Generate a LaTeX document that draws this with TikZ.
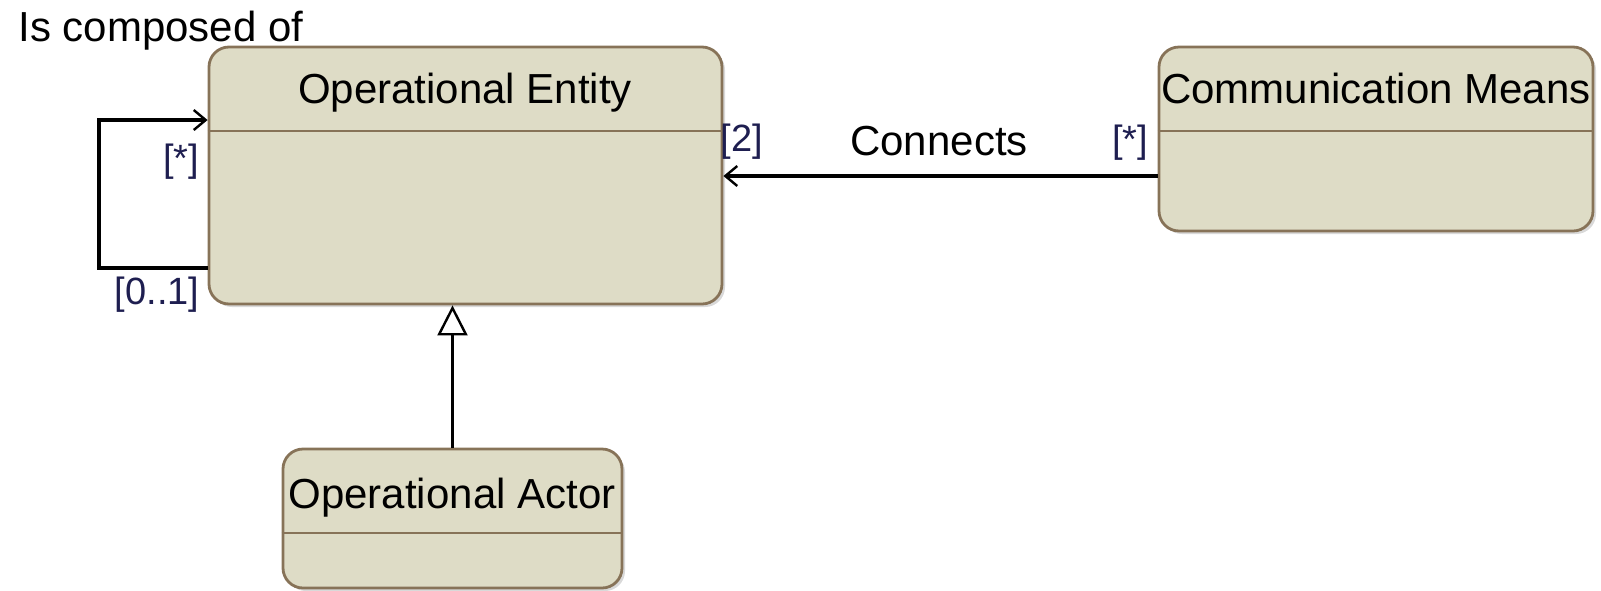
\documentclass[tikz,border=0pt]{standalone}
\usepackage{fontspec}
\setmainfont{Liberation Sans}
\usetikzlibrary{arrows.meta,shadows}
\definecolor{classfill}{RGB}{222,220,198}
\definecolor{classline}{RGB}{135,115,88}
\definecolor{multcol}{RGB}{30,30,80}

\begin{document}
\begin{tikzpicture}[x=0.5pt,y=-0.5pt,
    classbox/.style={draw=classline, fill=classfill, line width=1.4pt, rounded corners=10pt,
      inner sep=0pt, drop shadow={opacity=0.3, shadow xshift=1.5pt, shadow yshift=-1.5pt}},
    divider/.style={draw=classline, line width=1.4pt},
    title/.style={font=\fontsize{21}{25}\selectfont, inner sep=0pt},
    mult/.style={font=\fontsize{19}{23}\selectfont, text=multcol, inner sep=0pt},
    assoc/.style={draw=black, line width=1.6pt, -{Straight Barb[length=6pt,width=10pt,line width=1.2pt]}},
    generalize/.style={draw=black, line width=1.6pt, -{Triangle[open,length=15pt,width=15pt,line width=1.2pt,fill=white]}}]
          \useasboundingbox (0,0) rectangle (1601,590);

          % classes
          \node[classbox, minimum width=256.5pt, minimum height=128.5pt] (opentity) at (465.5,175.5) {};
          \node[classbox, minimum width=217pt, minimum height=92pt] (commeans) at (1376,139) {};
          \node[classbox, minimum width=169.5pt, minimum height=69.5pt] (opactor) at (452.5,518.5) {};

          \draw[divider] (opentity.west |- 0,131) -- (opentity.east |- 0,131);
          \draw[divider] (commeans.west |- 0,131) -- (commeans.east |- 0,131);
          \draw[divider] (opactor.west |- 0,533) -- (opactor.east |- 0,533);

          \node[title, anchor=base] (oetitle) at (465,103) {Operational Entity};
          \node[title, anchor=base] (cmtitle) at (1376,103) {Communication Means};
          \node[title, anchor=base] (oatitle) at (452,508) {Operational Actor};

          % self association
          \node[title, anchor=base west] (composed) at (18,41) {Is composed of};
          \draw[assoc] (opentity.west |- 0,268) -- (99,268) -- (99,120) -- (opentity.west |- 0,120);
          \node[mult] (mstar) at (181,162) {[*]};
          \node[mult] (mzeroone) at (157,295) {[0..1]};

          % connects
          \draw[assoc] (commeans.west |- 0,176) -- (opentity.east |- 0,176);
          \node[mult] (mtwo) at (742,142) {[2]};
          \node[title] (connects) at (939,141) {Connects};
          \node[mult] (mstarcm) at (1130,143) {[*]};

          % generalization
          \draw[generalize] (opactor.north) -- (opactor.north |- opentity.south);
    \end{tikzpicture}
\end{document}
